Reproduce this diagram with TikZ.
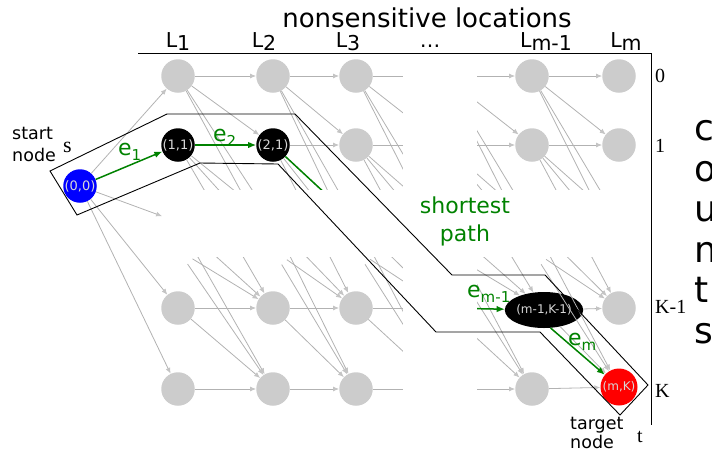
\documentclass[tikz,border=0pt]{standalone}
\usepackage{fontspec}
\setmainfont{DejaVu Sans}
\newfontfamily\timesfont{Liberation Serif}
\usetikzlibrary{arrows.meta,shapes.geometric}
\definecolor{locgray}{RGB}{204,204,204}
\definecolor{linkgray}{RGB}{178,178,178}
\definecolor{tipgray}{RGB}{196,196,196}
\definecolor{pathgreen}{RGB}{0,130,0}
\definecolor{labelgray}{RGB}{215,215,215}
\newcommand\Lname[1]{L\raisebox{-3.5pt}{\fontsize{20.5}{20.5}\selectfont#1}}
\newcommand\ename[1]{e\raisebox{-5pt}{\fontsize{15}{15}\selectfont#1}}
\tikzset{
  loc/.style={circle, fill=locgray, minimum size=33.5pt, text=labelgray,
    font=\fontsize{13}{13}\selectfont},
  hid/.style={circle, minimum size=33.5pt},
  link/.style={draw=linkgray, line width=0.8pt, -{Latex[length=6pt,width=5pt,color=tipgray]}},
  way/.style={draw=pathgreen, line width=1.5pt, -{Latex[length=8pt,width=6.5pt]}},
  num/.style={anchor=base west, font=\timesfont\fontsize{20}{20}\selectfont},
  elabel/.style={anchor=base west, text=pathgreen, font=\fontsize{22}{22}\selectfont},
}
\begin{document}
\begin{tikzpicture}[x=1pt, y=-1pt, inner sep=0pt]
  \useasboundingbox (0,0) rectangle (712,456);
  % all grid places, rows 2,3 and column 4 are left blank
  \foreach \col/\x in {1/178,2/273,3/356,4/444,5/532,6/619}
    \foreach \row/\y in {0/76,1/145,2/222,3/250,4/308,5/389}
      \node[hid] (n\col\row) at (\x,\y) {};
  \foreach \col/\row in {1/0,2/0,3/0,5/0,6/0,3/1,5/1,6/1,1/4,2/4,3/4,6/4,1/5,2/5,3/5,5/5}
    \node[loc] (g\col\row) at (n\col\row) {};
  \node[loc, fill=blue] (n00) at (80,186) {(0,0)};
  \node[loc, fill=black] (n11) at (178,145) {(1,1)};
  \node[loc, fill=black] (n21) at (273,145) {(2,1)};
  \node[loc, ellipse, fill=black, minimum width=58pt, minimum height=36pt,
    font=\fontsize{12}{12}\selectfont] (n54) at (544,310) {(m-1,K-1)};
  \node[loc, fill=red, minimum size=37pt, font=\fontsize{12}{12}\selectfont] (n65) at (619,387) {(m,K)};

  % grey links
  \foreach \row in {0,2,4,5}
    \draw[link] (n00) -- (n1\row);
  \foreach \col [evaluate=\col as \nx using int(\col+1)] in {1,...,5}
    \foreach \row in {0,...,5}
      \foreach \dr in {0,...,3}{
        \pgfmathtruncatemacro\tr{\row+\dr}
        \ifnum\tr<6 \draw[link] (n\col\row) -- (n\nx\tr); \fi
      }

  % the shortest path
  \draw[way] (n00) -- (n11);
  \draw[way] (n11) -- (n21);
  \draw[way] (n21) -- (n32);
  \draw[way] (n44) -- (n54);
  \draw[way] (n54.-70) -- (n65);

  % blank out the omitted rows and columns
  \fill[white] (183,190) rectangle (645,257);
  \fill[white] (403,60) rectangle (477,420);

  \draw[line width=0.9pt] (50,171) -- (167,114) -- (295,114) -- (452,275) -- (545,275)
    -- (648,385) -- (620,415) -- (540,332) -- (436,332) -- (278,164) -- (200,163)
    -- (77,215) -- cycle;
  \draw[line width=0.8pt] (138,53) -- (651,53) -- (651,425);

  \node[anchor=base, font=\fontsize{26}{26}\selectfont] (title) at (427,27) {nonsensitive locations};
  \foreach \lbl/\x [count=\i] in {\Lname{1}/178,\Lname{2}/264,\Lname{3}/348,{\ldots}/430,\Lname{m-1}/546,\Lname{m}/626}
    \node[anchor=base, font=\fontsize{20.5}{20.5}\selectfont] (head\i) at (\x,47) {\lbl};

  \node[num] (row0) at (655,82) {0};
  \node[num] (row1) at (655,152) {1};
  \node[num] (rowK1) at (655,313) {K-1};
  \node[num] (rowK) at (655,397) {K};
  \foreach \ch [count=\i from 0] in {c,o,u,n,t,s}
    \node[anchor=base west, font=\fontsize{36}{36}\selectfont] (side\i) at (694,{140.5+40.6*\i}) {\ch};

  \node[anchor=north west, align=left, font=\fontsize{17.5}{22}\selectfont] (startlbl) at (12,127) {start\\node};
  \node[anchor=base west, font=\timesfont\fontsize{22}{22}\selectfont] (slbl) at (63,152) {s};
  \node[anchor=north west, align=left, font=\fontsize{17.5}{19.5}\selectfont] (targetlbl) at (570,417) {target\\node};
  \node[num] (tlbl) at (637,442) {t};

  \node[elabel] (e1) at (118,155) {\ename{1}};
  \node[elabel] (e2) at (213,141) {\ename{2}};
  \node[elabel] (em1) at (467,297) {\ename{m-1}};
  \node[elabel] (em) at (568,345) {\ename{m}};
  \node[anchor=north, align=center, text=pathgreen, font=\fontsize{22}{28}\selectfont] (sp) at (465,197) {shortest\\path};
\end{tikzpicture}
\end{document}
